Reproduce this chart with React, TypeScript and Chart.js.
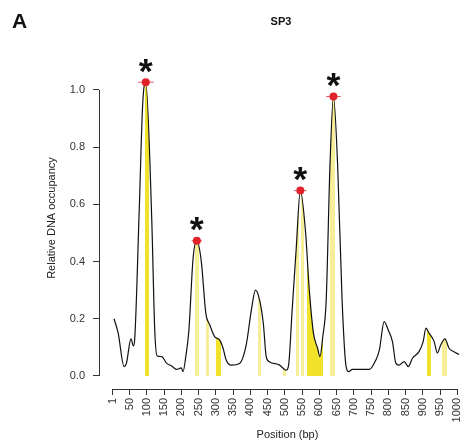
import React, { useEffect, useRef } from "react";
import { Chart, registerables } from "chart.js";

Chart.register(...registerables);

// Occupancy profile (position in bp, relative occupancy)
const positions = [5, 17, 34, 41, 54, 61, 65, 78, 88, 97, 114, 123, 130, 143, 157, 172, 186, 200, 205, 213, 222, 234, 245, 258, 271, 282, 297, 311, 321, 330, 345, 369, 388, 403, 415, 427, 438, 446, 455, 485, 504, 511, 521, 533, 545, 560, 571, 583, 595, 602, 610, 620, 631, 641, 653, 666, 677, 685, 696, 716, 745, 764, 774, 788, 800, 812, 822, 831, 846, 858, 870, 889, 901, 909, 918, 933, 942, 952, 964, 976, 990, 1005];
const occupancy = [0.2, 0.15, 0.033, 0.045, 0.13, 0.105, 0.13, 0.58, 0.95, 1.027, 0.56, 0.16, 0.07, 0.068, 0.045, 0.035, 0.023, 0.028, 0.015, 0.068, 0.16, 0.41, 0.473, 0.4, 0.22, 0.18, 0.137, 0.126, 0.097, 0.056, 0.038, 0.044, 0.108, 0.23, 0.3, 0.265, 0.18, 0.068, 0.05, 0.038, 0.02, 0.038, 0.225, 0.445, 0.648, 0.505, 0.3, 0.15, 0.097, 0.068, 0.137, 0.266, 0.74, 0.977, 0.74, 0.266, 0.038, 0.015, 0.023, 0.023, 0.023, 0.056, 0.09, 0.19, 0.16, 0.12, 0.044, 0.038, 0.05, 0.033, 0.062, 0.085, 0.12, 0.167, 0.15, 0.12, 0.08, 0.108, 0.13, 0.097, 0.085, 0.075];

// Highlighted motif regions (start, end, strong?)
const regionStart = [94, 239, 271, 301, 422, 494, 533, 547, 563, 631, 913, 957];
const regionEnd = [107, 250, 280, 316, 432, 504, 542, 557, 610, 646, 923, 971];
const regionStrong = [true, false, false, true, false, false, false, false, true, false, true, false];

// Called peaks with horizontal error bars
const peakPos = [97, 245, 545, 641];
const peakVal = [1.027, 0.473, 0.648, 0.977];
const peakLo = [74, 230, 527, 620];
const peakHi = [120, 260, 563, 662];

const xTicks = [1, 50, 100, 150, 200, 250, 300, 350, 400, 450, 500, 550, 600, 650, 700, 750, 800, 850, 900, 950, 1000];
const yTicks = [0, 0.2, 0.4, 0.6, 0.8, 1.0];

const FONT = '"Liberation Sans", Arial, Helvetica, sans-serif';
const STRONG = "#f1e22a";
const LIGHT = "#f6ee98";

const decor = {
  id: "decor",
  afterDatasetsDraw(chart: any) {
    const { ctx, chartArea, scales } = chart;
    const x = scales.x;
    const y = scales.y;
    ctx.save();
    // detached axes (R style)
    ctx.strokeStyle = "#333";
    ctx.lineWidth = 1;
    ctx.beginPath();
    const ax = Math.floor(chartArea.left) + 0.5;
    ctx.moveTo(ax, y.getPixelForValue(0));
    ctx.lineTo(ax, y.getPixelForValue(1));
    const ay = Math.floor(chartArea.bottom) + 0.5;
    ctx.moveTo(x.getPixelForValue(1), ay);
    ctx.lineTo(x.getPixelForValue(1000), ay);
    ctx.stroke();

    // asterisks above peaks
    ctx.fillStyle = "#111";
    ctx.font = `bold 100px ${FONT}`;
    let m = ctx.measureText("*");
    const w100 = m.actualBoundingBoxLeft + m.actualBoundingBoxRight;
    const size = (100 * 14) / w100;
    ctx.font = `bold ${size}px ${FONT}`;
    m = ctx.measureText("*");
    ctx.textAlign = "left";
    ctx.textBaseline = "alphabetic";
    peakPos.forEach((p, i) => {
      const cx = x.getPixelForValue(p);
      const cy = y.getPixelForValue(peakVal[i]) - 16.5;
      const dx = cx - (m.actualBoundingBoxRight - m.actualBoundingBoxLeft) / 2;
      const dy = cy - (m.actualBoundingBoxDescent - m.actualBoundingBoxAscent) / 2;
      ctx.fillText("*", dx, dy);
    });

    // panel letter and title
    ctx.fillStyle = "#111";
    ctx.font = `bold 21px ${FONT}`;
    ctx.textAlign = "left";
    ctx.textBaseline = "alphabetic";
    ctx.fillText("A", 12, 28);
    ctx.font = `bold 11px ${FONT}`;
    ctx.textAlign = "center";
    ctx.textBaseline = "middle";
    ctx.fillText("SP3", (chartArea.left + chartArea.right) / 2 + 1, 22);

    // x axis title
    ctx.fillStyle = "#222";
    ctx.font = `11px ${FONT}`;
    ctx.fillText("Position (bp)", (x.getPixelForValue(1) + x.getPixelForValue(1000)) / 2 + 2.5, 435);
    ctx.restore();
  },
};

export default function App() {
  const ref = useRef<HTMLCanvasElement | null>(null);

  useEffect(() => {
    document.body.style.margin = "0";
    const canvas = ref.current;
    if (!canvas) return;

    const curve = positions.map((p, i) => ({ x: p, y: occupancy[i] }));
    const dots = peakPos.map((p, i) => ({ x: p, y: peakVal[i] }));
    const errs: any[] = [];
    peakPos.forEach((_, i) => {
      errs.push({ x: peakLo[i], y: peakVal[i] });
      errs.push({ x: peakHi[i], y: peakVal[i] });
      errs.push({ x: peakHi[i] + 1, y: null });
    });

    const fillColor = (c: any) => {
      const chart = c.chart;
      const area = chart.chartArea;
      const xs = chart.scales && chart.scales.x;
      if (!area || !xs) return "rgba(0,0,0,0)";
      const g = chart.ctx.createLinearGradient(area.left, 0, area.right, 0);
      const w = area.right - area.left;
      const clamp = (v: number) => Math.min(1, Math.max(0, v));
      const idx = regionStart.map((_, i) => i).sort((a, b) => regionStart[a] - regionStart[b]);
      idx.forEach((i) => {
        const a = clamp((xs.getPixelForValue(regionStart[i]) - area.left) / w);
        const b = clamp((xs.getPixelForValue(regionEnd[i]) - area.left) / w);
        const col = regionStrong[i] ? STRONG : LIGHT;
        g.addColorStop(a, "rgba(255,255,255,0)");
        g.addColorStop(a, col);
        g.addColorStop(b, col);
        g.addColorStop(b, "rgba(255,255,255,0)");
      });
      return g;
    };

    const chart = new Chart(canvas, {
      type: "line",
      data: {
        datasets: [
          {
            label: "peaks",
            data: dots,
            showLine: false,
            pointRadius: 4,
            pointHoverRadius: 4,
            pointBackgroundColor: "#e1222b",
            pointBorderColor: "#e1222b",
            pointBorderWidth: 0,
          },
          {
            label: "peak error",
            data: errs,
            borderColor: "#e8555a",
            borderWidth: 1,
            pointRadius: 0,
            spanGaps: false,
            fill: false,
          },
          {
            label: "occupancy",
            data: curve,
            borderColor: "#111",
            borderWidth: 1.2,
            pointRadius: 0,
            cubicInterpolationMode: "monotone",
            fill: "origin",
            backgroundColor: fillColor,
          },
        ],
      },
      options: {
        animation: false,
        responsive: false,
        maintainAspectRatio: false,
        layout: { padding: { left: 41, top: 47, right: 3, bottom: 3 } },
        plugins: {
          legend: { display: false },
          tooltip: { enabled: false },
          title: { display: false },
        },
        scales: {
          x: {
            type: "linear",
            min: -38.6,
            max: 1010.7,
            border: { display: false },
            grid: { drawOnChartArea: false, drawTicks: true, tickLength: 6, color: "#333" },
            afterBuildTicks: (s: any) => {
              s.ticks = xTicks.map((v) => ({ value: v }));
            },
            afterFit: (s: any) => {
              s.height = 56;
              s.paddingLeft = 0;
              s.paddingRight = 0;
            },
            ticks: {
              autoSkip: false,
              maxRotation: 90,
              minRotation: 90,
              padding: 3,
              color: "#333",
              font: { family: FONT, size: 11 },
              callback: (v: any) => String(v),
            },
          },
          y: {
            type: "linear",
            min: -0.0455,
            max: 1.15,
            border: { display: false },
            grid: { drawOnChartArea: false, drawTicks: true, tickLength: 6, color: "#333" },
            afterBuildTicks: (s: any) => {
              s.ticks = yTicks.map((v) => ({ value: v }));
            },
            afterFit: (s: any) => {
              s.width = 58;
              s.paddingTop = 0;
              s.paddingBottom = 0;
            },
            ticks: {
              padding: 8,
              color: "#333",
              font: { family: FONT, size: 11 },
              callback: (v: any) => Number(v).toFixed(1),
            },
            title: {
              display: true,
              text: "Relative DNA occupancy",
              color: "#222",
              font: { family: FONT, size: 11 },
              padding: { top: 4, bottom: 4 },
            },
          },
        },
      },
      plugins: [decor],
    } as any);

    return () => chart.destroy();
  }, []);

  return (
    <div style={{ width: 465, height: 448 }}>
      <canvas ref={ref} width={465} height={448} />
    </div>
  );
}
